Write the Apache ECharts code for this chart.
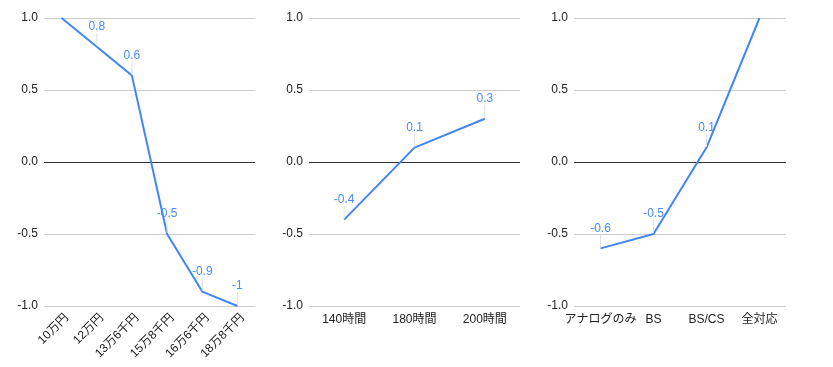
<!DOCTYPE html>
<html><head><meta charset="utf-8">
<script src="https://cdn.jsdelivr.net/npm/echarts@6/dist/echarts.min.js"></script>
<style>html,body{margin:0;padding:0;background:#fff}#c{width:833px;height:367px}</style>
</head><body><div id="c"></div>
<script>
const cats1 = ['10万円','12万円','13万6千円','15万8千円','16万6千円','18万8千円'];
const vals1 = [1, 0.8, 0.6, -0.5, -0.9, -1];
const cats2 = ['140時間','180時間','200時間'];
const vals2 = [-0.4, 0.1, 0.3];
const cats3 = ['アナログのみ','BS','BS/CS','全対応'];
const vals3 = [-0.6, -0.5, 0.1, 1];
const yTicks = [-1, -0.5, 0, 0.5, 1];

const FONT = '"Liberation Sans", Arial, "Noto Sans CJK JP", sans-serif';
const grids = [
  {left: 44, width: 211, top: 18, height: 288},
  {left: 309, width: 211, top: 18, height: 288},
  {left: 574, width: 212, top: 18, height: 288},
  {left: 49, width: 211, top: 18, height: 288}
];
const allCats = [cats1, cats2, cats3];
const allVals = [vals1, vals2, vals3];

const xAxes = allCats.map((c, i) => ({
  type: 'category', gridIndex: i, data: c, boundaryGap: true,
  axisLine: {show: false}, axisTick: {show: false},
  axisLabel: {
    show: i !== 0, interval: 0, color: '#222', fontSize: 12, fontFamily: FONT, margin: 8
  }
}));
xAxes.push({
  type: 'category', gridIndex: 3, data: cats1, boundaryGap: true,
  axisLine: {show: false}, axisTick: {show: false},
  axisLabel: {interval: 0, color: '#222', fontSize: 12, fontFamily: FONT, rotate: 45, margin: 10}
});
const yAxes = allCats.map((c, i) => ({
  type: 'value', gridIndex: i, min: yTicks[0], max: yTicks[yTicks.length - 1], interval: 0.5,
  axisLine: {show: false}, axisTick: {show: false},
  axisLabel: {color: '#222', fontSize: 12, fontFamily: FONT, margin: 6,
    formatter: v => v.toFixed(1)},
  splitLine: {lineStyle: {width: 1, color: yTicks.map(t => t === 0 ? '#333' : '#ccc')}}
}));
yAxes.push({type: 'value', gridIndex: 3, min: -1, max: 1, show: false});

const chart = echarts.init(document.getElementById('c'));
chart.setOption({
  animation: false,
  grid: grids,
  xAxis: xAxes,
  yAxis: yAxes,
  series: allVals.map((v, i) => ({
    type: 'line', xAxisIndex: i, yAxisIndex: i,
    data: v.map(x => ({value: x, label: {show: x < 1}, labelLine: {show: x < 1}})),
    symbol: 'circle', symbolSize: 2, showSymbol: true,
    lineStyle: {color: '#4285f4', width: 2},
    itemStyle: {color: 'rgba(0,0,0,0)', borderWidth: 0},
    label: {
      show: true, position: 'top', distance: 5, color: '#4a8cf4', fontSize: 12, fontFamily: FONT,
      formatter: p => String(p.value)
    },
    labelLayout: {dy: -8},
    labelLine: {show: true, lineStyle: {color: '#e0e0e0', width: 1}}
  }))
});
</script></body></html>
